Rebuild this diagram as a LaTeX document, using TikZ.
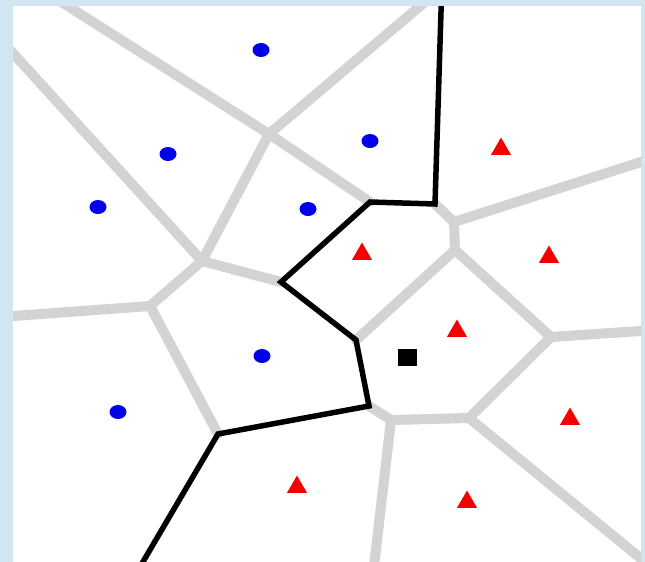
\documentclass[tikz,border=0pt]{standalone}
\usepackage{tikz}
\usetikzlibrary{shapes.geometric}
\definecolor{panelblue}{RGB}{209,229,243}
\definecolor{edgegray}{RGB}{211,211,211}
\definecolor{dotblue}{RGB}{0,0,235}
\definecolor{markred}{RGB}{245,0,0}

\begin{document}
\begin{tikzpicture}[x=1pt,y=-1pt,
    vedge/.style={draw=edgegray,line width=10pt,line cap=round},
    bound/.style={draw=black,line width=5.5pt,line join=miter},
    bluept/.style={ellipse,fill=dotblue,inner sep=0pt,minimum width=17pt,minimum height=14pt},
    redpt/.style={regular polygon,regular polygon sides=3,fill=markred,inner sep=0pt,minimum size=23pt,yshift=-3pt},
    query/.style={rectangle,fill=black,inner sep=0pt,minimum width=19pt,minimum height=17pt}]
  \fill[panelblue] (0,0) rectangle (645,562);
  \useasboundingbox (0,0) rectangle (645,562);
  \fill[white] (13,6) rectangle (641,562);
  \begin{scope}
    \clip (13,6) rectangle (641,562);
    % cell corners
    \coordinate (A) at (269,134);
    \coordinate (B) at (202,261);
    \coordinate (E) at (150,306);
    \coordinate (G) at (454,222);
    \coordinate (H) at (455,250);
    \coordinate (J) at (551,337);
    \coordinate (K) at (469,418);
    \coordinate (L) at (391,420);
    % boundary corners
    \coordinate (b0) at (441.5,-4);
    \coordinate (b1) at (435,204);
    \coordinate (b2) at (370,202);
    \coordinate (b3) at (281,282);
    \coordinate (b4) at (356,340);
    \coordinate (b5) at (369,406);
    \coordinate (b6) at (218,434);
    \coordinate (b7) at (137,572);
    % open ends
    \coordinate (e1) at (52,-4);
    \coordinate (e2) at (0,39);
    \coordinate (e3) at (432,-4);
    \coordinate (e4) at (0,317);
    \coordinate (e5) at (655,157.5);
    \coordinate (e6) at (655,330);
    \coordinate (e7) at (373,575);
    \coordinate (e8) at (655,570);
    \draw[vedge] (e1) -- (A) -- (B) -- (E) -- (e4);
    \draw[vedge] (e2) -- (B);
    \draw[vedge] (e3) -- (A);
    \draw[vedge] (A) -- (b2);
    \draw[vedge] (B) -- (b3);
    \draw[vedge] (E) -- (b6);
    \draw[vedge] (b1) -- (G) -- (e5);
    \draw[vedge] (G) -- (H) -- (b4);
    \draw[vedge] (H) -- (J) -- (e6);
    \draw[vedge] (J) -- (K) -- (L) -- (b5);
    \draw[vedge] (L) -- (e7);
    \draw[vedge] (K) -- (e8);
    \draw[bound] (b0) -- (b1) -- (b2) -- (b3) -- (b4) -- (b5) -- (b6) -- (b7);
  \end{scope}
  \node[bluept] (c1) at (261,50) {};
  \node[bluept] (c2) at (370,141) {};
  \node[bluept] (c3) at (168,154) {};
  \node[bluept] (c4) at (98,207) {};
  \node[bluept] (c5) at (308,209) {};
  \node[bluept] (c6) at (262,356) {};
  \node[bluept] (c7) at (118,412) {};
  \node[redpt] (t1) at (501,146) {};
  \node[redpt] (t2) at (362,251) {};
  \node[redpt] (t3) at (549,254) {};
  \node[redpt] (t4) at (457,328) {};
  \node[redpt] (t5) at (570,416) {};
  \node[redpt] (t6) at (297,484) {};
  \node[redpt] (t7) at (467,499) {};
  \node[query] (q) at (407,357) {};
\end{tikzpicture}
\end{document}
